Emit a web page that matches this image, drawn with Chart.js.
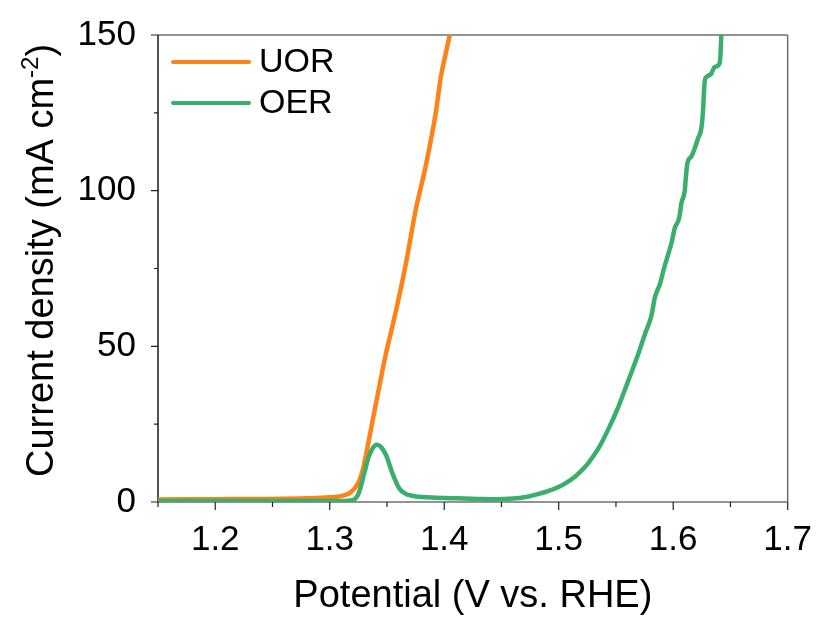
<!DOCTYPE html>
<html>
<head>
<meta charset="utf-8">
<script src="https://cdn.jsdelivr.net/npm/chart.js@4.4.1/dist/chart.umd.min.js"></script>
<style>
  body { margin: 0; background: #fff; }
  canvas { display: block; }
</style>
</head>
<body>
<canvas id="lsv" width="821" height="619"></canvas>
<script>
// LSV curves, potential in V vs. RHE, current density in mA cm-2
const uorPotential = [1.15, 1.20, 1.25, 1.28, 1.30, 1.31, 1.317, 1.322, 1.326, 1.329, 1.3316, 1.3345, 1.3374,
  1.3432, 1.349, 1.3548, 1.3606, 1.367, 1.3752, 1.3839, 1.3926, 1.397, 1.4013, 1.4048];
const uorCurrent = [0.8, 0.9, 1.0, 1.2, 1.5, 1.9, 2.8, 4.5, 7.0, 10.5, 15.0, 20.5, 26.0,
  37.0, 47.5, 56.5, 66.0, 77.5, 94.0, 108.0, 125.0, 136.5, 144.0, 150.0];

const oerPotential = [1.15, 1.25, 1.31, 1.32, 1.325, 1.33, 1.334, 1.3374, 1.341, 1.3445, 1.349, 1.3548, 1.3606,
  1.366, 1.372, 1.38, 1.3926, 1.41, 1.43, 1.445, 1.46, 1.47, 1.4825, 1.49, 1.4999, 1.5072, 1.5144, 1.52, 1.526,
  1.5347, 1.5434, 1.552, 1.5608, 1.5695, 1.5753, 1.5811, 1.584, 1.5884, 1.5921, 1.5956, 1.5985, 1.6014, 1.6052,
  1.6072, 1.6101, 1.611, 1.6124, 1.6159, 1.6188, 1.6217, 1.6246, 1.626, 1.6275, 1.629, 1.6333, 1.6362, 1.6406,
  1.6415, 1.642];
const oerCurrent = [0.3, 0.3, 0.35, 0.6, 2.5, 9.0, 14.5, 17.2, 18.4, 17.8, 15.2, 9.2, 4.4,
  2.7, 2.0, 1.6, 1.4, 1.2, 1.0, 0.9, 1.1, 1.5, 2.6, 3.4, 4.8, 6.3, 8.2, 10.1, 12.6,
  17.2, 23.4, 30.5, 39.0, 47.5, 53.9, 60.0, 65.7, 70.0, 75.2, 79.5, 83.2, 88.0, 91.2,
  96.0, 100.0, 104.0, 108.8, 111.0, 113.6, 116.8, 120.0, 125.4, 135.0, 136.5, 137.6, 139.7, 141.0,
  145.0, 150.0];

const seriesNames = ['UOR', 'OER'];
const seriesColors = ['#ff8216', '#3aae6c'];

const xMajor = [1.2, 1.3, 1.4, 1.5, 1.6, 1.7];
const xMinor = [1.15, 1.25, 1.35, 1.45, 1.55, 1.65];
const yMajor = [0, 50, 100, 150];
const yMinor = [25, 75, 125];

const FONT = "'Liberation Sans', Arial, sans-serif";

const toPoints = (xs, ys) => xs.map((x, i) => ({ x: x, y: ys[i] }));

// frame, ticks, axis titles and legend
const decorations = {
  id: 'decorations',
  beforeDatasetsDraw(chart) {
    const { ctx, chartArea: a, scales } = chart;
    const xs = scales.x, ys = scales.y;
    ctx.save();
    ctx.lineWidth = 1.5;
    ctx.strokeStyle = '#707070';
    ctx.beginPath();
    ctx.moveTo(a.left, a.top); ctx.lineTo(a.right, a.top);
    ctx.moveTo(a.right, a.top); ctx.lineTo(a.right, a.bottom);
    ctx.moveTo(a.left, a.bottom); ctx.lineTo(a.right, a.bottom);
    ctx.stroke();
    ctx.strokeStyle = '#1a1a1a';
    ctx.beginPath();
    ctx.moveTo(a.left, a.top); ctx.lineTo(a.left, a.bottom + 0.75);
    ctx.stroke();

    ctx.lineWidth = 1.2;
    ctx.strokeStyle = '#222';
    ctx.beginPath();
    xMajor.forEach(v => { const p = xs.getPixelForValue(v); ctx.moveTo(p, a.bottom); ctx.lineTo(p, a.bottom + 8); });
    xMinor.forEach(v => { const p = xs.getPixelForValue(v); ctx.moveTo(p, a.bottom); ctx.lineTo(p, a.bottom + 5); });
    yMajor.forEach(v => { const p = ys.getPixelForValue(v); ctx.moveTo(a.left, p); ctx.lineTo(a.left - 7, p); });
    yMinor.forEach(v => { const p = ys.getPixelForValue(v); ctx.moveTo(a.left, p); ctx.lineTo(a.left - 4, p); });
    ctx.stroke();
    ctx.restore();
  },
  afterDraw(chart) {
    const { ctx, chartArea: a } = chart;
    ctx.save();
    ctx.fillStyle = '#000';

    // x title
    ctx.font = '38px ' + FONT;
    ctx.textAlign = 'center';
    ctx.textBaseline = 'alphabetic';
    ctx.fillText('Potential (V vs. RHE)', (a.left + a.right) / 2, 607);

    // y title with superscript
    ctx.translate(53, 477);
    ctx.rotate(-Math.PI / 2);
    ctx.textAlign = 'left';
    const main = 'Current density (mA cm';
    ctx.font = '38px ' + FONT;
    ctx.fillText(main, 0, 0);
    let w = ctx.measureText(main).width;
    ctx.font = '24px ' + FONT;
    ctx.fillText('-2', w, -15);
    w += ctx.measureText('-2').width;
    ctx.font = '38px ' + FONT;
    ctx.fillText(')', w, 0);
    ctx.restore();

    // legend
    ctx.save();
    ctx.lineWidth = 4;
    ctx.lineCap = 'round';
    ctx.font = '34px ' + FONT;
    ctx.textBaseline = 'middle';
    ctx.fillStyle = '#000';
    seriesNames.forEach((name, i) => {
      const y = 62 + i * 41;
      ctx.strokeStyle = seriesColors[i];
      ctx.beginPath();
      ctx.moveTo(173, y); ctx.lineTo(249, y);
      ctx.stroke();
      ctx.fillText(name, 259, y + 1);
    });
    ctx.restore();
  }
};

new Chart(document.getElementById('lsv'), {
  type: 'line',
  data: {
    datasets: [
      {
        label: seriesNames[0],
        data: toPoints(uorPotential, uorCurrent),
        borderColor: seriesColors[0],
        borderWidth: 4.5,
        pointRadius: 0,
        cubicInterpolationMode: 'monotone',
        order: 1
      },
      {
        label: seriesNames[1],
        data: toPoints(oerPotential, oerCurrent),
        borderColor: seriesColors[1],
        borderWidth: 4.5,
        pointRadius: 0,
        cubicInterpolationMode: 'monotone',
        order: 0
      }
    ]
  },
  options: {
    responsive: false,
    animation: false,
    layout: { padding: { top: 33, right: 31, left: 0, bottom: 0 } },
    plugins: { legend: { display: false }, tooltip: { enabled: false } },
    scales: {
      x: {
        type: 'linear',
        min: 1.15,
        max: 1.7,
        grid: { display: false },
        border: { display: false },
        afterBuildTicks: s => { s.ticks = xMajor.map(v => ({ value: v })); },
        afterFit: s => { s.height = 117; },
        ticks: {
          padding: 9,
          color: '#000',
          maxRotation: 0,
          font: { family: FONT, size: 35 },
          callback: v => v.toFixed(1)
        }
      },
      y: {
        type: 'linear',
        min: 0,
        max: 150,
        grid: { display: false },
        border: { display: false },
        afterBuildTicks: s => { s.ticks = yMajor.map(v => ({ value: v })); },
        afterFit: s => { s.width = 158; },
        ticks: {
          padding: 14,
          color: '#000',
          font: { family: FONT, size: 35 }
        }
      }
    }
  },
  plugins: [decorations]
});
</script>
</body>
</html>
